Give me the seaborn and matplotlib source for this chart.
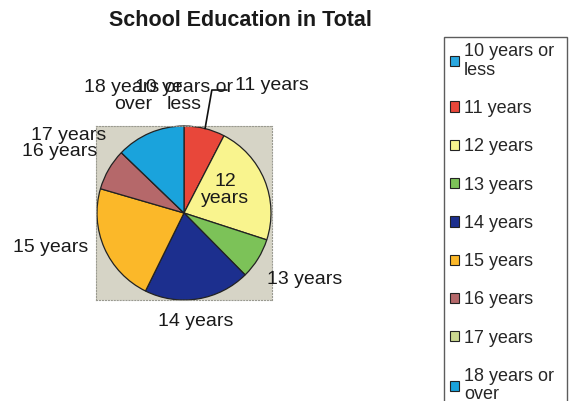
import numpy as np
import matplotlib
matplotlib.use("Agg")
import matplotlib.pyplot as plt
import seaborn as sns
from matplotlib.patches import Patch

# Set seaborn style
sns.set_theme(style="white")
plt.rcParams["font.family"] = ["Liberation Sans", "DejaVu Sans"]

# Data (share of pupils by years of school education)
categories = ["10 years or\nless", "11 years", "12 years", "13 years", "14 years",
              "15 years", "16 years", "17 years", "18 years or\nover"]
shares = [0.0, 7.6, 22.4, 7.6, 19.7, 22.2, 7.7, 0.0, 12.8]
colors = ["#2aa8e0", "#e8473a", "#f9f48e", "#7cc258", "#1c2f8e",
          "#fbb829", "#b5686a", "#cbd890", "#1aa3dc"]

W, H = 570, 401


def fx(x):
    return x / W


def fy(y):
    return 1 - y / H


fig = plt.figure(figsize=(W / 100, H / 100), dpi=100)
fig.patch.set_facecolor("white")

# plot area (grey box around the pie)
ax = fig.add_axes([fx(96), fy(300), 176 / W, 174 / H])
wedges, _ = ax.pie(shares, colors=colors, startangle=90, counterclock=False,
                   radius=1.0,
                   wedgeprops=dict(edgecolor="#222222", linewidth=0.9))
ax.set_frame_on(True)
ax.set_facecolor("#d6d4c6")
for sp in ax.spines.values():
    sp.set_color("#9a9a90")
    sp.set_linestyle(":")
    sp.set_linewidth(0.8)
ax.set_xlim(-1.0, 1.0)
ax.set_ylim(-1.0, 1.0)
ax.set_aspect("equal", adjustable="datalim")
ax.set_xticks([])
ax.set_yticks([])

# data labels, placed like the original spreadsheet chart
label_pos = {
    "10 years or\nless": (184, 96),
    "11 years": (272, 85),
    "12 years": (225, 190),
    "13 years": (305, 279),
    "14 years": (196, 321),
    "15 years": (51, 248),
    "16 years": (60, 152),
    "17 years": (69, 136),
    "18 years or\nover": (133, 96),
}
for cat in categories:
    x, y = label_pos[cat]
    txt = "12\nyears" if cat == "12 years" else cat
    fig.text(fx(x), fy(y), txt, ha="center", va="center", fontsize=14,
             color="#1a1a1a", linespacing=1.0)

# leader line for the empty first slice
th = np.deg2rad(wedges[0].theta1 - 14)
ax.annotate("", xy=(np.cos(th), np.sin(th)), xycoords="data",
            xytext=(fx(227), fy(90)), textcoords="figure fraction",
            arrowprops=dict(arrowstyle="-", color="#111111", lw=1.2,
                            shrinkA=0, shrinkB=0,
                            connectionstyle="angle,angleA=180,angleB=80,rad=0"),
            annotation_clip=False)

fig.text(fx(240), fy(21), "School Education in Total", ha="center", va="center",
         fontsize=15.5, fontweight="bold", color="#1a1a1a")

# legend (runs off the bottom edge, as in the original)
handles = [Patch(facecolor=c, edgecolor="#222222", linewidth=0.8) for c in colors]
leg = fig.legend(handles, categories, loc="upper left", mode="expand",
                 bbox_to_anchor=(fx(444), fy(37), fx(567) - fx(444), 0),
                 bbox_transform=fig.transFigure,
                 fontsize=13, frameon=True, fancybox=False, borderaxespad=0,
                 handlelength=0.5, handleheight=0.5, handletextpad=0.25,
                 labelspacing=1.18, borderpad=0.35)
leg.get_frame().set_edgecolor("#333333")
leg.get_frame().set_linewidth(1.0)
for t in leg.get_texts():
    t.set_linespacing(1.1)

fig.savefig("out.png", dpi=100)
